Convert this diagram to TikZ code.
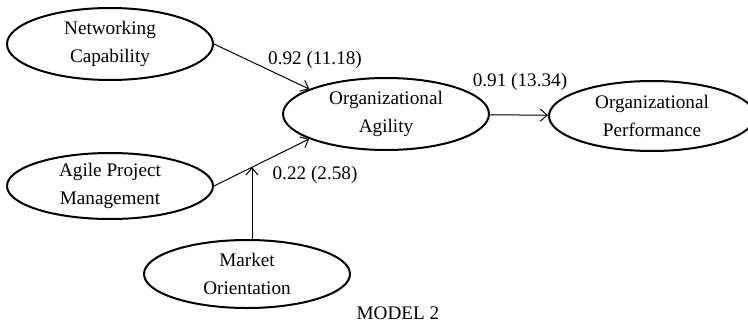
\documentclass[tikz,border=0pt]{standalone}
\usepackage{fontspec}
\setmainfont{Liberation Serif}
\usepackage{tikz}
\usetikzlibrary{arrows.meta,shapes.geometric,intersections}

\begin{document}
\begin{tikzpicture}[
x=0.5pt,y=-0.5pt,
font=\fontsize{9.6}{14}\selectfont,
construct/.style={ellipse,draw,line width=1pt,inner sep=0pt,minimum width=103pt,align=center},
path/.style={->,line width=0.5pt,>={Straight Barb[length=3.5pt,width=6pt]}},
coef/.style={inner sep=1pt}]
    \useasboundingbox (0,0) rectangle (748,326);

    % Draw constructs
    \node[construct,minimum height=36pt] (nc)  at (110,44)  {Networking\\Capability};
    \node[construct,minimum height=33pt] (apm) at (110,186) {Agile Project\\Management};
    \node[construct,minimum height=34pt] (mo)  at (247,274) {Market\\Orientation};
    \node[construct,minimum height=36pt] (oa)  at (386,114) {Organizational\\Agility};
    \node[construct,minimum height=35pt] (op)  at (652,116) {Organizational\\Performance};

    % Draw paths
    \draw[path] (nc.east) -- (oa.162);
    \draw[path,name path=apmline] (apm.east) -- (oa.198);
    \draw[path] (oa) -- (op);

    % moderation arrow onto the path
    \path[name path=vline] ([xshift=2.5pt]mo.north) -- ++(0,-150);
    \draw[path,name intersections={of=vline and apmline,by=meet}] ([xshift=2.5pt]mo.north) -- (meet);

    % Coefficients
    \node[coef] (c1) at (315,60)  {0.92 (11.18)};
    \node[coef] (c2) at (520,82)  {0.91 (13.34)};
    \node[coef] (c3) at (315,175) {0.22 (2.58)};
    \node (title) at (398,313) {MODEL 2};
\end{tikzpicture}
\end{document}
